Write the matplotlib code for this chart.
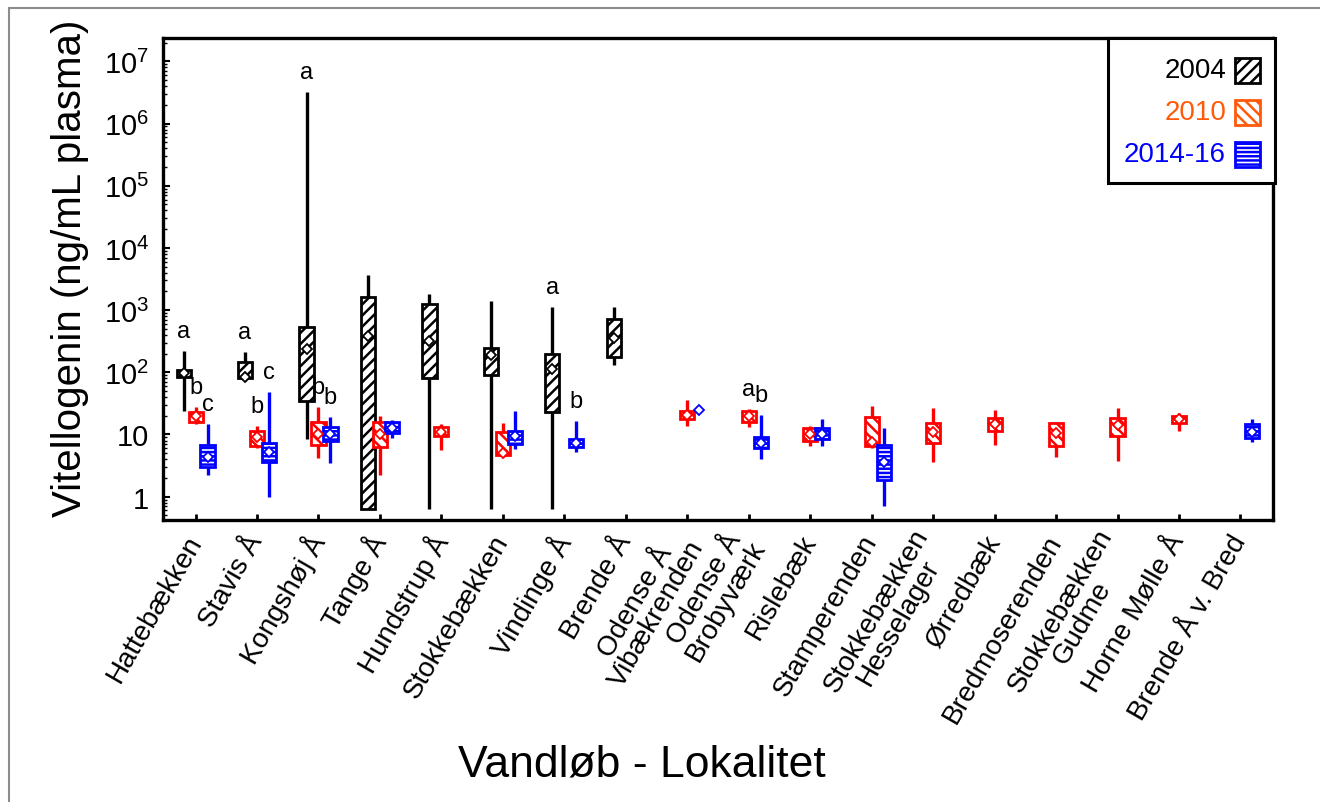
import numpy as np
import matplotlib
matplotlib.use("Agg")
import matplotlib.pyplot as plt
from matplotlib.patches import Rectangle

plt.rcParams['font.family'] = ['Liberation Sans', 'DejaVu Sans']
plt.rcParams['mathtext.fontset'] = 'custom'
plt.rcParams['mathtext.rm'] = 'Liberation Sans'
plt.rcParams['hatch.linewidth'] = 1.8

# ---------------- data ----------------
sites = ["Hattebækken", "Stavis Å", "Kongshøj Å", "Tange Å", "Hundstrup Å",
         "Stokkebækken", "Vindinge Å", "Brende Å", "Odense Å\nVibækrenden",
         "Odense Å\nBrobyværk", "Rislebæk", "Stamperenden",
         "Stokkebækken\nHesselager", "Ørredbæk", "Bredmoserenden",
         "Stokkebækken\nGudme", "Horne Mølle Å", "Brende Å v. Bred"]

N = np.nan
# 2004 (black): whisker low, box low, mean, box high, whisker high
w_lo_2004 = [24, 73, 8.5, 0.63, 0.63, 0.63, 0.63, 132] + [N] * 10
b_lo_2004 = [83, 80, 35, 0.63, 80, 90, 22.7, 174] + [N] * 10
mean_2004 = [96, 83, 235, 386, 322, 190, 113, 352] + [N] * 10
b_hi_2004 = [110, 148, 540, 1600, 1240, 249, 195, 727] + [N] * 10
w_hi_2004 = [222, 210, 3.2e6, 3700, 1815, 1385, 1135, 1110] + [N] * 10
let_2004 = ["a", "a", "a", "", "", "", "a", ""] + [""] * 10

# 2010 (red)
w_lo_2010 = [14.8, 6.0, 4.2, 2.2, 5.7, 4.3, N, N, 13.8, 13.3, 6.5, 6.1, 3.6, 6.9, 4.3, 3.8, 11.5, N]
b_lo_2010 = [16, 6.6, 6.9, 6.4, 9.4, 4.6, N, N, 17.7, 16, 7.9, 6.6, 7.2, 11.2, 6.5, 9.4, 15.1, N]
mean_2010 = [20, 9.0, 10, 10, 11, 5.0, N, N, 20.6, 20, 10.2, 7.5, 11, 14.7, 10.5, 14, 17.7, N]
b_hi_2010 = [23.3, 11.5, 15.7, 16, 13.3, 10.8, N, N, 23.6, 23.6, 12.7, 18.9, 15.1, 18.2, 15.3, 18.2, 19.6, N]
w_hi_2010 = [28, 13.5, 28, 20, 15, 15.3, N, N, 36, 25.7, 13.8, 29, 26.4, 24.8, 16, 26.7, 21.9, N]
let_2010 = ["b", "b", "b", "", "", "", "", "", "", "a"] + [""] * 8

# 2014-16 (blue)
w_lo_2014 = [2.2, 1.0, 3.5, 8.7, N, 5.8, 5.2, N, N, 4.1, 6.5, 0.72, N, N, N, N, N, 7.7]
b_lo_2014 = [3.0, 3.65, 7.8, 10.4, N, 7.0, 6.2, N, N, 6.0, 8.5, 1.85, N, N, N, N, N, 8.7]
mean_2014 = [4.3, 5.2, 10, 12.5, N, 9.4, 7.2, N, 25, 7.3, 10.3, 3.6, N, N, N, N, N, 11]
b_hi_2014 = [6.9, 7.3, 13, 15.7, N, 11.5, 8.5, N, N, 9.0, 12.7, 6.9, N, N, N, N, N, 14.8]
w_hi_2014 = [14.8, 47.7, 19.3, 17, N, 24, 16.3, N, N, 20.8, 17.7, 12.7, N, N, N, N, N, 17.7]
let_2014 = ["c", "c", "b", "", "", "", "b", "", "", "b"] + [""] * 8

years = ["2004", "2010", "2014-16"]
yticks = [1, 10, 100, 1e3, 1e4, 1e5, 1e6, 1e7]
ytick_labels = ["1", "10", r"$\mathregular{10^{2}}$", r"$\mathregular{10^{3}}$",
                r"$\mathregular{10^{4}}$", r"$\mathregular{10^{5}}$",
                r"$\mathregular{10^{6}}$", r"$\mathregular{10^{7}}$"]

# ---------------- figure ----------------
W, H = 1320, 803
fig = plt.figure(figsize=(W / 100, H / 100), dpi=100)
px = lambda x: x / W
py = lambda y: 1 - y / H

ax_l, ax_r, ax_t, ax_b = 163, 1273, 38.5, 520.7
ax = fig.add_axes([px(ax_l), py(ax_b), px(ax_r - ax_l), (ax_b - ax_t) / H])
ax.set_yscale('log')

series = [
    (w_lo_2004, b_lo_2004, mean_2004, b_hi_2004, w_hi_2004, let_2004, '#000000', '///', -0.195),
    (w_lo_2010, b_lo_2010, mean_2010, b_hi_2010, w_hi_2010, let_2010, '#FF0000', '\\\\\\', 0.0),
    (w_lo_2014, b_lo_2014, mean_2014, b_hi_2014, w_hi_2014, let_2014, '#0000FF', '----', 0.195),
]
xpos = np.arange(len(sites))
bw = 0.23
for wl, bl, mn, bh, wh, lets, col, hatch, off in series:
    wl, bl, mn, bh, wh = map(lambda a: np.array(a, float), (wl, bl, mn, bh, wh))
    x = xpos + off
    ok = ~np.isnan(wl)
    ax.vlines(x[ok], wl[ok], wh[ok], color=col, lw=2.4, zorder=2)
    okb = ~np.isnan(bl)
    ax.bar(x[okb], bh[okb] - bl[okb], bottom=bl[okb], width=bw, color='white',
           edgecolor=col, hatch=hatch, linewidth=2.0, zorder=3)
    okm = ~np.isnan(mn)
    ax.plot(x[okm], mn[okm], 'D', ms=5, mfc='white', mec=col, mew=1.3, zorder=4,
            linestyle='none')
    for xi, top, lt in zip(x, wh, lets):
        if lt:
            ax.annotate(lt, (xi, top), xytext=(0, 14.5), textcoords='offset points',
                        ha='center', va='center', fontsize=17, color='black', zorder=5)

ax.set_xlim(-0.53, len(sites) - 1 + 0.53)
ax.set_ylim(10 ** -0.37, 10 ** 7.383)
ax.set_yticks(yticks)
ax.set_yticklabels(ytick_labels, fontsize=21)
ax.set_xticks(xpos)
ax.set_xticklabels(sites, rotation=60, ha='right', va='center',
                   rotation_mode='anchor', fontsize=20, multialignment='center',
                   linespacing=0.95)
ax.tick_params(axis='x', direction='in', length=4, width=2, pad=12, top=False)
ax.tick_params(axis='y', which='major', direction='in', length=5, width=1.5, pad=10, right=False)
ax.tick_params(axis='y', which='minor', direction='in', length=3, width=1, right=False)
ax.xaxis.set_minor_locator(matplotlib.ticker.NullLocator())
for s in ax.spines.values():
    s.set_linewidth(2.4)

# axis titles
fig.text(px(642), py(765), "Vandløb - Lokalitet", ha='center', va='center', fontsize=32)
fig.text(px(70), py(268), "Vitellogenin (ng/mL plasma)", ha='center', va='center',
         rotation=90, fontsize=29)

# legend (manual)
fig.add_artist(Rectangle((px(1108), py(184)), px(1275 - 1108), (184 - 38.5) / H,
                         transform=fig.transFigure, facecolor='white', edgecolor='black',
                         linewidth=2.2, zorder=10))
leg_cols = ['#000000', '#FF5A0A', '#0000FF']
leg_hatch = ['///', '\\\\\\', '----']
leg_y = [71, 113, 155]
for lab, c, h, yy in zip(years, leg_cols, leg_hatch, leg_y):
    fig.text(px(1226), py(yy), lab, ha='right', va='center', fontsize=20, color=c, zorder=11)
    fig.add_artist(Rectangle((px(1235), py(yy + 12.5)), px(25), 25 / H,
                             transform=fig.transFigure, facecolor='white', edgecolor=c,
                             hatch=h, linewidth=2, zorder=11))

# outer gray frame
fig.add_artist(Rectangle((px(9), py(813)), px(1330), 804 / H, transform=fig.transFigure,
                         fill=False, edgecolor='#8c8c8c', linewidth=1.5, zorder=0))

fig.savefig("out.png", dpi=100)
